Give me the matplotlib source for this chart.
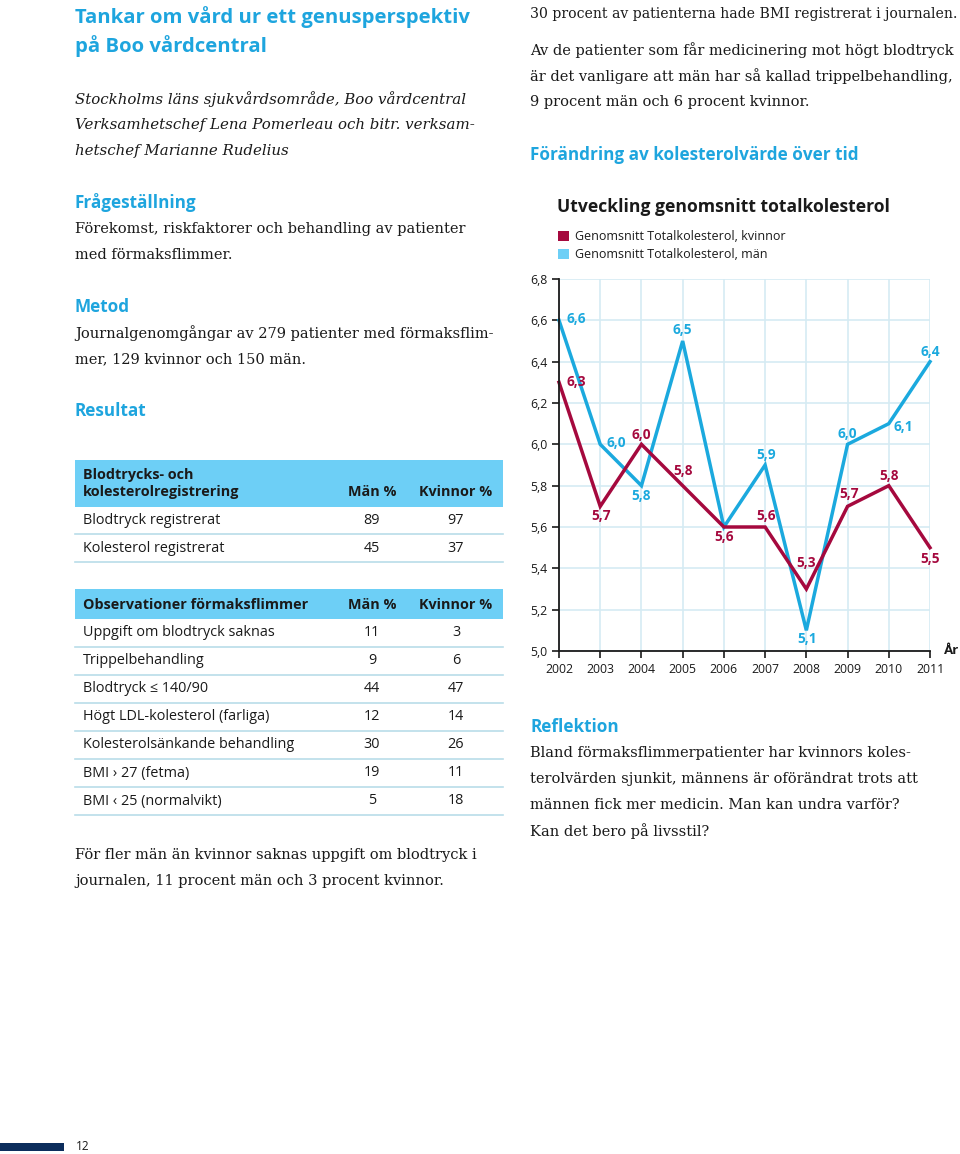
import matplotlib
matplotlib.use("Agg")
import matplotlib.pyplot as plt
from matplotlib.patches import Rectangle, Patch
from matplotlib.ticker import FuncFormatter

# chart data
years = [2002, 2003, 2004, 2005, 2006, 2007, 2008, 2009, 2010, 2011]
chol_women = [6.3, 5.7, 6.0, 5.8, 5.6, 5.6, 5.3, 5.7, 5.8, 5.5]
chol_men = [6.6, 6.0, 5.8, 6.5, 5.6, 5.9, 5.1, 6.0, 6.1, 6.4]
y_ticks = [5.0, 5.2, 5.4, 5.6, 5.8, 6.0, 6.2, 6.4, 6.6, 6.8]
series_names = ["Genomsnitt Totalkolesterol, kvinnor", "Genomsnitt Totalkolesterol, män"]

# table data
table1_rows = ["Blodtryck registrerat", "Kolesterol registrerat"]
table1_men = [89, 45]
table1_women = [97, 37]
table2_rows = ["Uppgift om blodtryck saknas", "Trippelbehandling", "Blodtryck \u2264 140/90",
               "Högt LDL-kolesterol (farliga)", "Kolesterolsänkande behandling",
               "BMI \u203a 27 (fetma)", "BMI \u2039 25 (normalvikt)"]
table2_men = [11, 9, 44, 12, 30, 19, 5]
table2_women = [3, 6, 47, 14, 26, 11, 18]

# label offsets in pixels (dx, dy), None = no label
women_offsets = [(17, 0), (1, -10), (0, 9), (0, 15), (0, -10), (1, 11), (0, 26), (2, 12), (0, 10), (0, -11)]
men_offsets = [(17, 1), (16, 1), (0, -10), (0, 11), None, (1, 10), (1, -9), (0, 10), (15, -3), (0, 10)]

SERIF = "DejaVu Serif"
SANS = "Open Sans"
HEAD_BLUE = "#1ea5de"
BAND_BLUE = "#6dcff6"
RULE = "#b9dde9"
WOMEN = "#a5093e"
MEN = "#1ba9de"
MEN_LEGEND = "#6dcff6"
GRID = "#d5ebf3"
TEXT = "#1a1a1a"
NAVY = "#0c2d5c"
TAB_SIZE = 10.4

W, H = 960, 1154
fig = plt.figure(figsize=(W / 100, H / 100), dpi=100)
page = fig.add_axes([0, 0, 1, 1])
page.set_xlim(0, W)
page.set_ylim(H, 0)
page.axis("off")


def body(x, y, s, italic=False, size=10.5):
    page.text(x, y, s, fontsize=size, family=SERIF, color=TEXT, va="center",
              style="italic" if italic else "normal")


def head(x, y, s, size=12.3, color=HEAD_BLUE):
    page.text(x, y, s, fontsize=size, family=SANS, weight="bold", color=color, va="center")


def cell(x, y, s, bold=False, ha="left"):
    page.text(x, y, s, fontsize=TAB_SIZE, family=SANS, weight="bold" if bold else "normal",
              color=TEXT, va="center", ha=ha)


# left column
head(75, 17, "Tankar om vård ur ett genusperspektiv", size=14.6)
head(75, 46, "på Boo vårdcentral", size=14.6)
body(75, 99, "Stockholms läns sjukvårdsområde, Boo vårdcentral", italic=True, size=10.8)
body(75, 125, "Verksamhetschef Lena Pomerleau och bitr. verksam-", italic=True, size=10.8)
body(75, 151, "hetschef Marianne Rudelius", italic=True, size=10.8)

head(75, 203, "Frågeställning")
body(75, 229, "Förekomst, riskfaktorer och behandling av patienter")
body(75, 255, "med förmaksflimmer.")
head(75, 307, "Metod")
body(75, 333, "Journalgenomgångar av 279 patienter med förmaksflim-")
body(75, 359, "mer, 129 kvinnor och 150 män.")
head(75, 411, "Resultat")

# table 1
tx0, tx1 = 75, 503
men_x, women_x = 372, 456
page.add_patch(Rectangle((tx0, 460), tx1 - tx0, 47, color=BAND_BLUE, lw=0))
cell(83, 475, "Blodtrycks- och", bold=True)
cell(83, 492, "kolesterolregistrering", bold=True)
cell(men_x, 492, "Män %", bold=True, ha="center")
cell(women_x, 492, "Kvinnor %", bold=True, ha="center")
for i, (name, m, w) in enumerate(zip(table1_rows, table1_men, table1_women)):
    yc = 520 + i * 28
    cell(83, yc, name)
    cell(men_x, yc, str(m), ha="center")
    cell(women_x, yc, str(w), ha="center")
    page.plot([tx0, tx1], [yc + 14, yc + 14], color=RULE, lw=1.2)

# table 2
page.add_patch(Rectangle((tx0, 589), tx1 - tx0, 30, color=BAND_BLUE, lw=0))
cell(83, 605, "Observationer förmaksflimmer", bold=True)
cell(men_x, 605, "Män %", bold=True, ha="center")
cell(women_x, 605, "Kvinnor %", bold=True, ha="center")
for i, (name, m, w) in enumerate(zip(table2_rows, table2_men, table2_women)):
    yc = 633 + i * 28
    cell(83, yc, name)
    cell(men_x, yc, str(m), ha="center")
    cell(women_x, yc, str(w), ha="center")
    page.plot([tx0, tx1], [yc + 14, yc + 14], color=RULE, lw=1.2)

body(75, 855, "För fler män än kvinnor saknas uppgift om blodtryck i")
body(75, 881, "journalen, 11 procent män och 3 procent kvinnor.")

# page number
page.add_patch(Rectangle((0, 1143), 64, 8, color=NAVY, lw=0))
page.text(76, 1147, "12", fontsize=8.5, family=SANS, color=TEXT, va="center")

# right column
body(530, 14, "30 procent av patienterna hade BMI registrerat i journalen.", size=10.1)
body(530, 50, "Av de patienter som får medicinering mot högt blodtryck")
body(530, 76, "är det vanligare att män har så kallad trippelbehandling,")
body(530, 102, "9 procent män och 6 procent kvinnor.")
head(530, 155, "Förändring av kolesterolvärde över tid")

head(557, 207, "Utveckling genomsnitt totalkolesterol", size=12.6, color=TEXT)

head(530, 727, "Reflektion")
body(530, 753, "Bland förmaksflimmerpatienter har kvinnors koles-")
body(530, 779, "terolvärden sjunkit, männens är oförändrat trots att")
body(530, 805, "männen fick mer medicin. Man kan undra varför?")
body(530, 831, "Kan det bero på livsstil?")

# chart
ax = fig.add_axes([559 / W, 1 - 651 / H, 371 / W, 372 / H])
ax.set_xlim(years[0], years[-1])
ax.set_ylim(y_ticks[0], y_ticks[-1])
ax.set_xticks(years)
ax.set_yticks(y_ticks)
ax.yaxis.set_major_formatter(FuncFormatter(lambda v, p: f"{v:.1f}".replace(".", ",")))
ax.grid(True, color=GRID, lw=1.2)
ax.set_axisbelow(True)
for side in ["top", "right"]:
    ax.spines[side].set_visible(False)
for side in ["left", "bottom"]:
    ax.spines[side].set_color(TEXT)
    ax.spines[side].set_linewidth(1.3)
ax.tick_params(axis="both", direction="out", length=5, width=1.2, color=TEXT,
               labelsize=8.8, labelcolor=TEXT)
for lab in ax.get_xticklabels() + ax.get_yticklabels():
    lab.set_family(SANS)

ax.plot(years, chol_men, color=MEN, lw=2.5, clip_on=False, solid_joinstyle="miter")
ax.plot(years, chol_women, color=WOMEN, lw=2.5, clip_on=False, solid_joinstyle="miter")

for vals, offs, col in [(chol_women, women_offsets, WOMEN), (chol_men, men_offsets, MEN)]:
    for x, v, off in zip(years, vals, offs):
        if off is None:
            continue
        ax.annotate(f"{v:.1f}".replace(".", ","), (x, v), xytext=off, textcoords="offset pixels",
                    ha="center", va="center", fontsize=9.8, family=SANS, weight="bold", color=col)

ax.annotate("År", (1, 0), xycoords="axes fraction", xytext=(14, 0), textcoords="offset pixels",
            ha="left", va="center", fontsize=9.5, family=SANS, weight="bold", color=TEXT)

handles = [Patch(facecolor=WOMEN, edgecolor="none"), Patch(facecolor=MEN_LEGEND, edgecolor="none")]
fig.legend(handles, series_names, loc="upper left", bbox_to_anchor=(552 / W, 1 - 224 / H),
           frameon=False, prop={"family": SANS, "size": 9.0}, handlelength=0.85, handleheight=0.85,
           handletextpad=0.5, labelspacing=0.4, borderpad=0, labelcolor=TEXT)

fig.savefig("out.png", dpi=100)
